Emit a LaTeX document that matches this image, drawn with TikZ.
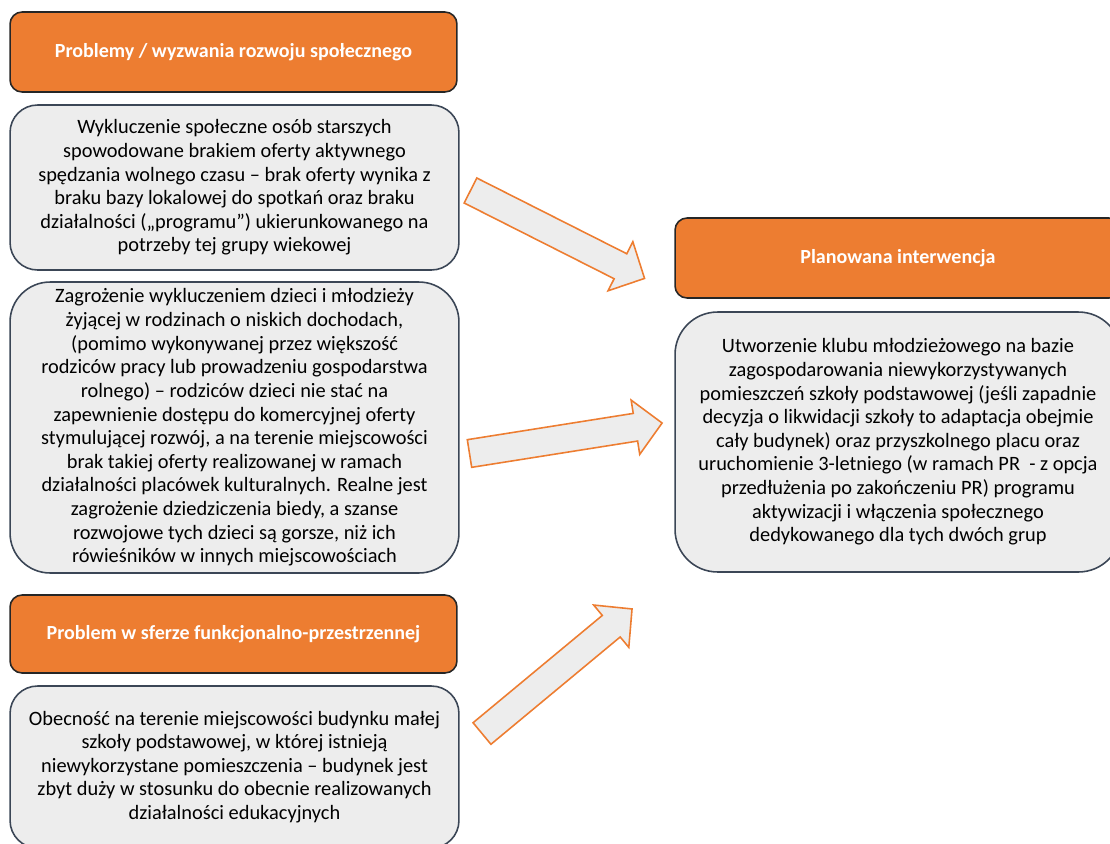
\documentclass[tikz,border=0pt]{standalone}
\usepackage{fontspec}
\setmainfont{Carlito}
\usepackage{xcolor}
\usetikzlibrary{positioning,calc}

\definecolor{hdrorange}{HTML}{ED7D31}
\definecolor{boxgray}{HTML}{EDEDED}
\definecolor{boxline}{HTML}{3B4656}

\begin{document}
\begin{tikzpicture}[
    x=0.02cm, y=-0.02cm,
    header/.style={
        draw=black!85,
        fill=hdrorange,
        line width=0.9pt,
        rounded corners=0.24cm,
        text=white,
        font=\fontsize{11.4}{13.5}\selectfont\bfseries,
        align=center
    },
    textbox/.style={
        draw=boxline,
        fill=boxgray,
        line width=0.9pt,
        rounded corners=0.55cm,
        font=\fontsize{11.6}{13.45}\selectfont,
        align=center
    },
    barrow/.style={
        draw=hdrorange,
        fill=boxgray,
        line width=0.9pt,
        line join=miter
    },
    blockarrow/.pic={
        \draw[barrow] (0,-14) -- (168,-14) -- (168,-27.5) -- (195,0)
            -- (168,27.5) -- (168,14) -- (0,14) -- cycle;
    }
]
\useasboundingbox (0,0) rectangle (1110,843);

% lewa kolumna
\node[header, minimum width=8.94cm, minimum height=1.6cm] (probhead) at (233.5,52)
    {Problemy / wyzwania rozwoju społecznego};
\node[textbox, minimum width=8.98cm, minimum height=3.3cm] (elderly) at (234.5,187.5)
    {Wykluczenie społeczne osób starszych\\
     spowodowane brakiem oferty aktywnego\\
     spędzania wolnego czasu – brak oferty wynika z\\
     braku bazy lokalowej do spotkań oraz braku\\
     działalności („programu”) ukierunkowanego na\\
     potrzeby tej grupy wiekowej};
\node[textbox, rounded corners=0.8cm, minimum width=8.98cm, minimum height=5.82cm] (youth) at (234.5,427.5)
    {Zagrożenie wykluczeniem dzieci i młodzieży\\
     żyjącej w rodzinach o niskich dochodach,\\
     (pomimo wykonywanej przez większość\\
     rodziców pracy lub prowadzeniu gospodarstwa\\
     rolnego) – rodziców dzieci nie stać na\\
     zapewnienie dostępu do komercyjnej oferty\\
     stymulującej rozwój, a na terenie miejscowości\\
     brak takiej oferty realizowanej w ramach\\
     działalności placówek kulturalnych. Realne jest\\
     zagrożenie dziedziczenia biedy, a szanse\\
     rozwojowe tych dzieci są gorsze, niż ich\\
     rówieśników w innych miejscowościach};
\node[header, minimum width=8.94cm, minimum height=1.56cm] (spacehead) at (233.5,634)
    {Problem w sferze funkcjonalno-przestrzennej};
\node[textbox, minimum width=8.98cm, minimum height=3.24cm] (school) at (234.5,767)
    {Obecność na terenie miejscowości budynku małej\\
     szkoły podstawowej, w której istnieją\\
     niewykorzystane pomieszczenia – budynek jest\\
     zbyt duży w stosunku do obecnie realizowanych\\
     działalności edukacyjnych};

% prawa kolumna
\node[header, minimum width=8.92cm, minimum height=1.6cm] (planhead) at (898,258)
    {Planowana interwencja};
\node[textbox, rounded corners=0.85cm, minimum width=8.92cm, minimum height=5.2cm] (club) at (898,442)
    {Utworzenie klubu młodzieżowego na bazie\\
     zagospodarowania niewykorzystywanych\\
     pomieszczeń szkoły podstawowej (jeśli zapadnie\\
     decyzja o likwidacji szkoły to adaptacja obejmie\\
     cały budynek) oraz przyszkolnego placu oraz\\
     uruchomienie 3-letniego (w ramach PR~ - z opcja\\
     przedłużenia po zakończeniu PR) programu\\
     aktywizacji i włączenia społecznego\\
     dedykowanego dla tych dwóch grup};

% strzałki blokowe
\coordinate (tailA) at (470.5,190.5);
\coordinate (tailB) at (469.5,453.5);
\coordinate (tailC) at (482,733.5);
\pic[rotate=-26.8] at (tailA) {blockarrow};
\pic[rotate=9.0] at (tailB) {blockarrow};
\pic[rotate=39.7] at (tailC) {blockarrow};
\end{tikzpicture}
\end{document}
